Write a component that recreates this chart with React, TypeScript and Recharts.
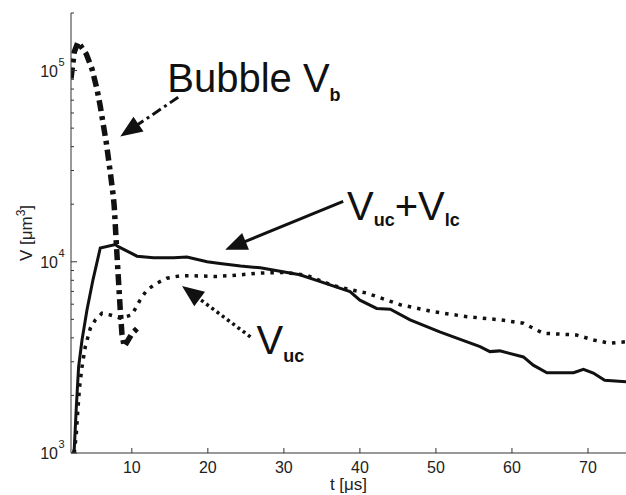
import React from "react";
import { LineChart, Line, XAxis, YAxis, ReferenceLine, ReferenceDot } from "recharts";

const INK = "#111";
const AXIS = "#333";

// bubble volume (dash-dot)
const bubbleT = [2.0, 2.43, 2.92, 4.01, 4.76, 5.42, 5.85, 6.64, 7.17, 7.57, 7.69, 8.1, 8.48, 8.7, 9.0, 10.0, 10.98];
const bubbleV = [91000, 125000, 141000, 122000, 102000, 79800, 65000, 42000, 29300, 21900, 19400, 10000, 5600, 4200, 3600, 4200, 4600];

// Vuc + Vlc (solid)
const totalT = [2.3, 2.43, 2.7, 3.0, 3.45, 4.1, 4.89, 5.85, 7.82, 8.22, 10.68, 12.86, 15.5, 17.25, 19.9, 21.6, 24.3, 26.9, 32.1, 34.7, 38.7, 40.0, 42.2, 44.0, 46.6, 50.5, 55.8, 57.1, 58.4, 61.5, 62.8, 64.6, 68.1, 69.4, 70.7, 72.2, 75];
const totalV = [1000, 1050, 1740, 2820, 3900, 5600, 8050, 11800, 12300, 12000, 10700, 10500, 10500, 10600, 10000, 9800, 9500, 9300, 8550, 7900, 6980, 6300, 5700, 5650, 4970, 4300, 3600, 3390, 3420, 3180, 2880, 2630, 2630, 2740, 2620, 2400, 2360];

// Vuc (dotted)
const ucT = [2.43, 2.7, 2.87, 3.13, 3.45, 3.88, 4.54, 5.19, 6.07, 7.17, 8.48, 10.0, 11.1, 11.99, 13.3, 14.6, 16.37, 18.1, 21.2, 24.3, 26.9, 30, 33, 36.5, 39.1, 40.9, 45.3, 49.7, 54.1, 58.5, 61.5, 64.1, 68.5, 70.7, 72.9, 75];
const ucV = [1000, 1260, 1610, 2220, 2820, 3600, 4490, 4960, 5380, 5270, 5070, 5270, 6320, 7130, 7730, 8200, 8450, 8450, 8370, 8550, 8730, 8800, 8500, 7500, 7100, 6860, 5960, 5480, 5160, 4970, 4770, 4230, 4140, 3900, 3750, 3820];

const xTicks = [10, 20, 30, 40, 50, 60, 70];
const yTicks = [
  1000, 2000, 3000, 4000, 5000, 6000, 7000, 8000, 9000,
  10000, 20000, 30000, 40000, 50000, 60000, 70000, 80000, 90000,
  100000, 200000,
];

// annotation anchors, in data units: [tail, tip]
const bubbleArrow = [{ t: 16.1, v: 72500 }, { t: 8.48, v: 45200 }];
const totalArrow = [{ t: 37.8, v: 20700 }, { t: 22.28, v: 11560 }];
const ucArrow = [{ t: 25.6, v: 4050 }, { t: 16.6, v: 7480 }];
const bubbleText = { t: 14.66, v: 77000 };
const totalText = { t: 38.3, v: 16600 };
const ucText = { t: 26.4, v: 3290 };

const toRows = (ts: number[], vs: number[]) => ts.map((t, i) => ({ t, v: vs[i] }));
const bubbleData = toRows(bubbleT, bubbleV);
const totalData = toRows(totalT, totalV);
const ucData = toRows(ucT, ucV);

const isDecade = (v: number) => Math.abs(Math.log10(v) - Math.round(Math.log10(v))) < 1e-6;

const LeftTick = (props: any) => {
  const { x, y, payload } = props;
  const v = payload.value;
  const major = isDecade(v);
  return (
    <g>
      <line x1={x} x2={x + (major ? 6 : 3)} y1={y} y2={y} stroke={AXIS} />
      {major && (
        <g fill="#222">
          <text x={x - 13} y={y + 6} textAnchor="end" fontSize={16}>10</text>
          <text x={x - 12.5} y={y - 5} fontSize={11}>{Math.round(Math.log10(v))}</text>
        </g>
      )}
    </g>
  );
};

const RightTick = (props: any) => {
  const { x, y, payload } = props;
  const major = isDecade(payload.value);
  return <line x1={x} x2={x - (major ? 6 : 3)} y1={y} y2={y} stroke={AXIS} />;
};

const BottomTick = (props: any) => {
  const { x, y, payload } = props;
  return (
    <g>
      <line x1={x} x2={x} y1={y} y2={y - 5} stroke={AXIS} />
      <text x={x} y={y + 20} textAnchor="middle" fontSize={16} fill="#222">
        {payload.value}
      </text>
    </g>
  );
};

const TopTick = (props: any) => {
  const { x, y } = props;
  return <line x1={x} x2={x} y1={y} y2={y + 5} stroke={AXIS} />;
};

const arrowShape = (width: number, dash?: string) => (p: any) => {
  const { x1, y1, x2, y2 } = p;
  const dx = x2 - x1;
  const dy = y2 - y1;
  const len = Math.hypot(dx, dy) || 1;
  const ux = dx / len;
  const uy = dy / len;
  const headL = 22;
  const headW = 9;
  const bx = x2 - ux * headL;
  const by = y2 - uy * headL;
  return (
    <g>
      <line x1={x1} y1={y1} x2={bx + ux * 2} y2={by + uy * 2} stroke={INK} strokeWidth={width} strokeDasharray={dash} />
      <polygon
        points={`${x2},${y2} ${bx - uy * headW},${by + ux * headW} ${bx + uy * headW},${by - ux * headW}`}
        fill={INK}
      />
    </g>
  );
};

const subStyle = { fontSize: 18, fontWeight: "bold" as const };

const BubbleLabel = (p: any) => (
  <text x={p.cx} y={p.cy} fontSize={40} fill={INK}>
    Bubble V<tspan {...subStyle} dy={9}>b</tspan>
  </text>
);

const TotalLabel = (p: any) => (
  <text x={p.cx} y={p.cy} fontSize={40} fill={INK}>
    V<tspan {...subStyle} dy={6}>uc</tspan>
    <tspan dy={-6}>+V</tspan>
    <tspan {...subStyle} dy={6}>lc</tspan>
  </text>
);

const UcLabel = (p: any) => (
  <text x={p.cx} y={p.cy} fontSize={40} fill={INK}>
    V<tspan {...subStyle} dy={8}>uc</tspan>
  </text>
);

const YLabel = (props: any) => {
  const { viewBox } = props;
  const cy = viewBox.y + viewBox.height / 2;
  const bx = 32;
  return (
    <text x={bx} y={cy} transform={`rotate(-90 ${bx} ${cy})`} textAnchor="middle" fontSize={17} fill="#222">
      V [μm<tspan fontSize={12} dy={-7}>3</tspan>
      <tspan dy={7}>]</tspan>
    </text>
  );
};

const ids = { xAxisId: "bottom", yAxisId: "left" };

export default function App() {
  return (
    <div style={{ position: "absolute", left: 0, top: 0, fontFamily: "'Liberation Sans', Arial, sans-serif", background: "#fff" }}>
      <LineChart width={626} height={495} margin={{ top: 13, right: 0, bottom: 0, left: 0 }}>
        <XAxis
          xAxisId="bottom"
          type="number"
          dataKey="t"
          domain={[2, 75]}
          ticks={xTicks}
          interval={0}
          allowDataOverflow
          height={42}
          tickSize={0}
          tickMargin={0}
          tickLine={false}
          stroke={AXIS}
          tick={<BottomTick />}
          label={{ value: "t [μs]", position: "insideBottom", offset: 5, fontSize: 17, fill: "#222" }}
        />
        <XAxis
          xAxisId="top"
          orientation="top"
          type="number"
          dataKey="t"
          domain={[2, 75]}
          ticks={xTicks}
          interval={0}
          allowDataOverflow
          height={0}
          tickSize={0}
          tickMargin={0}
          tickLine={false}
          stroke={AXIS}
          tick={<TopTick />}
        />
        <YAxis
          yAxisId="left"
          type="number"
          scale="log"
          domain={[1000, 200000]}
          ticks={yTicks}
          interval={0}
          allowDataOverflow
          width={71}
          tickSize={0}
          tickMargin={0}
          tickLine={false}
          stroke={AXIS}
          tick={<LeftTick />}
          label={<YLabel />}
        />
        <YAxis
          yAxisId="right"
          orientation="right"
          type="number"
          scale="log"
          domain={[1000, 200000]}
          ticks={yTicks}
          interval={0}
          allowDataOverflow
          width={0}
          tickSize={0}
          tickMargin={0}
          tickLine={false}
          stroke={AXIS}
          tick={<RightTick />}
        />
        <Line {...ids} data={totalData} dataKey="v" type="linear" stroke={INK} strokeWidth={3} dot={false} activeDot={false} isAnimationActive={false} />
        <Line {...ids} data={ucData} dataKey="v" type="linear" stroke={INK} strokeWidth={3.5} strokeDasharray="3.5 6" dot={false} activeDot={false} isAnimationActive={false} />
        <Line {...ids} data={bubbleData} dataKey="v" type="linear" stroke={INK} strokeWidth={5.5} strokeDasharray="11 5 4 5" dot={false} activeDot={false} isAnimationActive={false} />
        <ReferenceLine {...ids} segment={[{ x: bubbleArrow[0].t, y: bubbleArrow[0].v }, { x: bubbleArrow[1].t, y: bubbleArrow[1].v }]} shape={arrowShape(3, "10 4 3 4")} />
        <ReferenceLine {...ids} segment={[{ x: totalArrow[0].t, y: totalArrow[0].v }, { x: totalArrow[1].t, y: totalArrow[1].v }]} shape={arrowShape(3)} />
        <ReferenceLine {...ids} segment={[{ x: ucArrow[0].t, y: ucArrow[0].v }, { x: ucArrow[1].t, y: ucArrow[1].v }]} shape={arrowShape(3.5, "3 3.5")} />
        <ReferenceDot {...ids} x={bubbleText.t} y={bubbleText.v} shape={BubbleLabel} />
        <ReferenceDot {...ids} x={totalText.t} y={totalText.v} shape={TotalLabel} />
        <ReferenceDot {...ids} x={ucText.t} y={ucText.v} shape={UcLabel} />
      </LineChart>
    </div>
  );
}
